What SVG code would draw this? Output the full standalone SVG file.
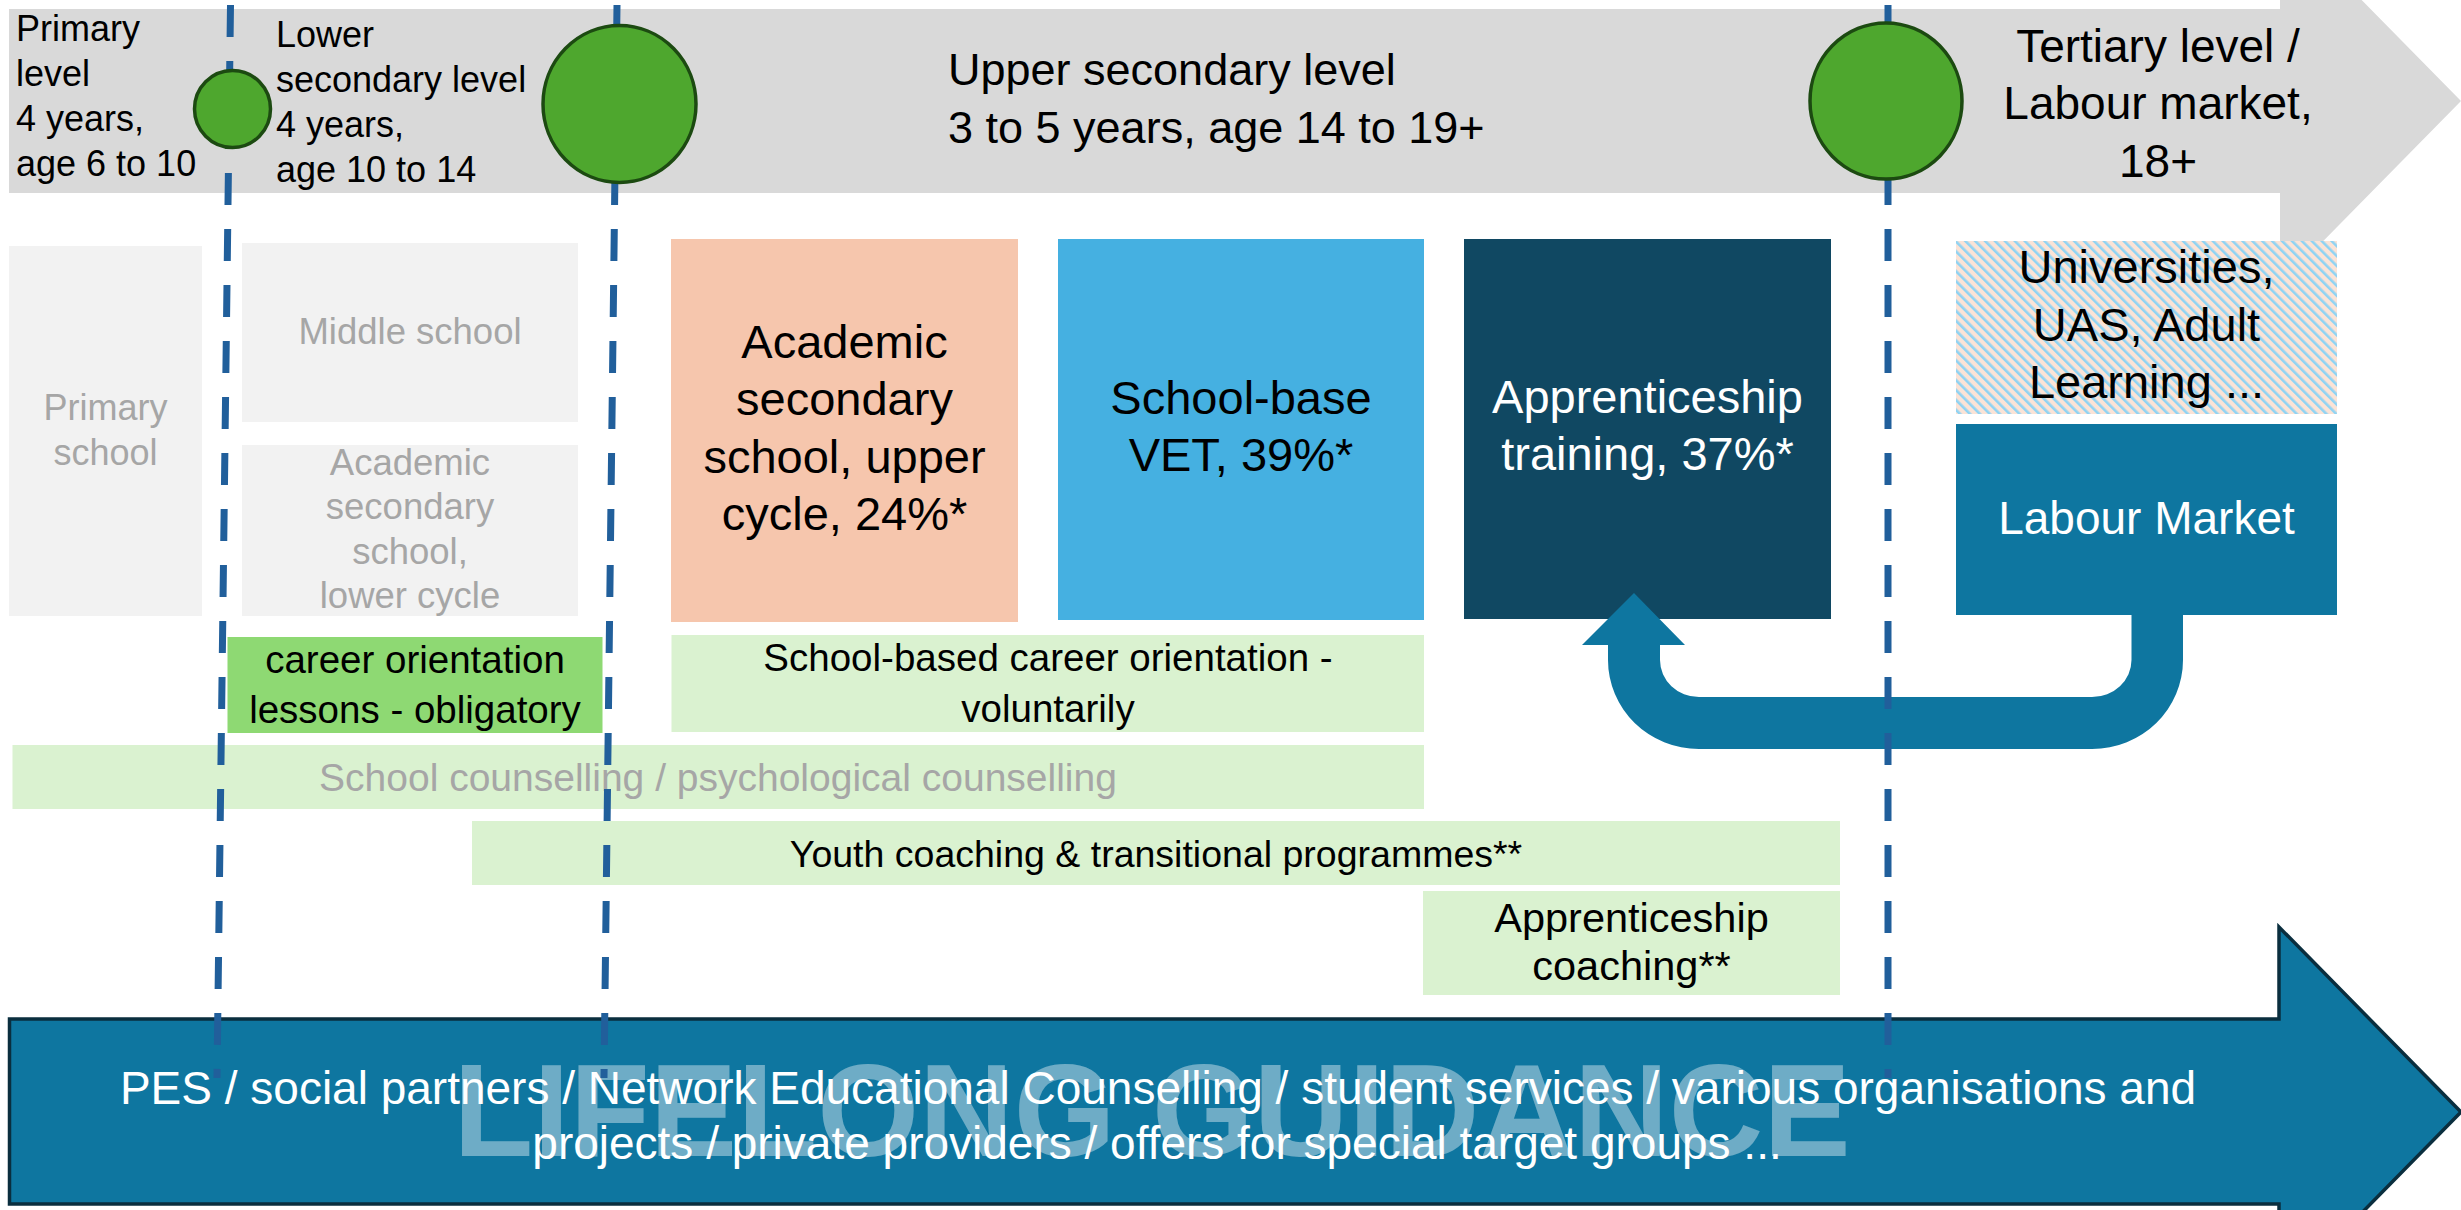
<svg xmlns="http://www.w3.org/2000/svg" width="2461" height="1210" viewBox="0 0 2461 1210">
<style>
text{font-family:"Liberation Sans",Arial,sans-serif;}
.blk{fill:#000}
.wht{fill:#fff}
.gry{fill:#A6A6A6}
.mid{text-anchor:middle}
.lite{fill:#F2F2F2}
.lg{fill:#DAF2D0}
.dash{stroke:#215F9B;stroke-width:7;stroke-dasharray:32 24;fill:none}
.ell{fill:#4EA72E;stroke:#1C4A11;stroke-width:3.5}
</style>
<defs>
<pattern id="stripes" width="7" height="7" patternUnits="userSpaceOnUse" patternTransform="rotate(-45)">
<rect width="7" height="7" fill="#FBE3D6"/>
<rect width="2.6" height="7" fill="#8FD3F3"/>
</pattern>
</defs>
<rect width="2461" height="1210" fill="#fff"/>

<g id="timeline">
<path d="M9,9 L2280,9 L2280,-83 L2461,101 L2280,285 L2280,193 L9,193 Z" fill="#D9D9D9"/>
<text class="blk" font-size="36"><tspan x="16" y="41">Primary</tspan><tspan x="16" y="86">level</tspan><tspan x="16" y="130.5">4 years,</tspan><tspan x="16" y="175.5">age 6 to 10</tspan></text>
<text class="blk" font-size="36"><tspan x="276" y="47">Lower</tspan><tspan x="276" y="92">secondary level</tspan><tspan x="276" y="136.5">4 years,</tspan><tspan x="276" y="181.5">age 10 to 14</tspan></text>
<text class="blk" font-size="45"><tspan x="948" y="85">Upper secondary level</tspan><tspan x="948" y="143">3 to 5 years, age 14 to 19+</tspan></text>
<text class="blk mid" font-size="46"><tspan x="2158" y="62">Tertiary level /</tspan><tspan x="2158" y="119">Labour market,</tspan><tspan x="2158" y="177">18+</tspan></text>
</g>

<g id="primary-school">
<rect class="lite" x="9" y="246" width="193" height="370"/>
<text class="gry mid" font-size="36"><tspan x="105.5" y="420">Primary</tspan><tspan x="105.5" y="465">school</tspan></text>
</g>
<g id="middle-school">
<rect class="lite" x="242" y="243" width="336" height="179"/>
<text class="gry mid" font-size="36.5" x="410" y="344">Middle school</text>
</g>
<g id="academic-lower">
<rect class="lite" x="242" y="445" width="336" height="171"/>
<text class="gry mid" font-size="36.5"><tspan x="410" y="475">Academic</tspan><tspan x="410" y="519">secondary</tspan><tspan x="410" y="563.5">school,</tspan><tspan x="410" y="608">lower cycle</tspan></text>
</g>
<g id="career-orientation-lessons">
<rect x="227.5" y="637" width="375" height="96" fill="#8ED973"/>
<text class="blk mid" font-size="38.5"><tspan x="415" y="672.5">career orientation</tspan><tspan x="415" y="723">lessons - obligatory</tspan></text>
</g>

<g id="academic-upper">
<rect x="671" y="239" width="347" height="383" fill="#F6C6AD"/>
<text class="blk mid" font-size="47"><tspan x="844.5" y="358">Academic</tspan><tspan x="844.5" y="415">secondary</tspan><tspan x="844.5" y="473">school, upper</tspan><tspan x="844.5" y="530">cycle, 24%*</tspan></text>
</g>
<g id="school-vet">
<rect x="1058" y="239" width="366" height="381" fill="#45B0E1"/>
<text class="blk mid" font-size="47"><tspan x="1241" y="414">School-base</tspan><tspan x="1241" y="471">VET, 39%*</tspan></text>
</g>
<g id="apprenticeship-training">
<rect x="1464" y="239" width="367" height="380" fill="#104862"/>
<text class="wht mid" font-size="47"><tspan x="1647.5" y="413">Apprenticeship</tspan><tspan x="1647.5" y="470">training, 37%*</tspan></text>
</g>
<g id="universities">
<rect x="1956" y="241" width="381" height="173" fill="url(#stripes)"/>
<text class="blk mid" font-size="47"><tspan x="2146.5" y="283">Universities,</tspan><tspan x="2146.5" y="341">UAS, Adult</tspan><tspan x="2146.5" y="398">Learning ...</tspan></text>
</g>
<g id="labour-market">
<rect x="1956" y="424" width="381" height="191" fill="#0E76A0"/>
<text class="wht mid" font-size="46" x="2146.5" y="534">Labour Market</text>
</g>

<g id="school-career-orientation">
<rect class="lg" x="671.5" y="635" width="752.5" height="97"/>
<text class="blk mid" font-size="38.5"><tspan x="1048" y="671">School-based career orientation -</tspan><tspan x="1048" y="722">voluntarily</tspan></text>
</g>
<g id="school-counselling">
<rect class="lg" x="12.5" y="745" width="1411.5" height="64"/>
<text class="gry mid" font-size="39" x="718" y="791">School counselling / psychological counselling</text>
</g>
<g id="youth-coaching">
<rect class="lg" x="472" y="821" width="1368" height="64"/>
<text class="blk mid" font-size="37.5" x="1156" y="867">Youth coaching &amp; transitional programmes**</text>
</g>
<g id="apprenticeship-coaching">
<rect class="lg" x="1423" y="891" width="417" height="104"/>
<text class="blk mid" font-size="41.5"><tspan x="1631.5" y="932">Apprenticeship</tspan><tspan x="1631.5" y="980">coaching**</tspan></text>
</g>

<g id="lifelong-guidance">
<path d="M9.5,1019 L2279,1019 L2279,927 L2461,1112 L2279,1297 L2279,1204 L9.5,1204 Z" fill="#0E76A0" stroke="#0A2E3E" stroke-width="3.5"/>
<text class="mid" font-size="131" font-weight="bold" fill="#FFFFFF" fill-opacity="0.4" x="1152" y="1156">LIFELONG GUIDANCE</text>
<text class="wht mid" font-size="46"><tspan x="1158" y="1104">PES / social partners / Network Educational Counselling / student services / various organisations and</tspan><tspan x="1157" y="1159">projects / private providers / offers for special target groups ...</tspan></text>
</g>

<g id="connectors">
<path id="return-arrow" d="M1582,645 L1634,593 L1685,645 L1660,645 L1660,660 A39 37 0 0 0 1699,697 L2092,697 A39.5 37 0 0 0 2131.5,660 L2131.5,614 L2183,614 L2183,660 A91 89 0 0 1 2092,749 L1699,749 A91 89 0 0 1 1608,660 L1608,645 Z" fill="#0E76A0"/>
<line class="dash" x1="230.5" y1="5" x2="217" y2="1078"/>
<line class="dash" x1="617" y1="5" x2="604" y2="1078"/>
<line class="dash" x1="1888" y1="5" x2="1888" y2="1078"/>
</g>

<g id="milestones">
<ellipse class="ell" cx="232.5" cy="109" rx="38" ry="38.5"/>
<ellipse class="ell" cx="619.5" cy="104" rx="76.5" ry="78.5"/>
<ellipse class="ell" cx="1886" cy="101" rx="76" ry="78"/>
</g>
</svg>
